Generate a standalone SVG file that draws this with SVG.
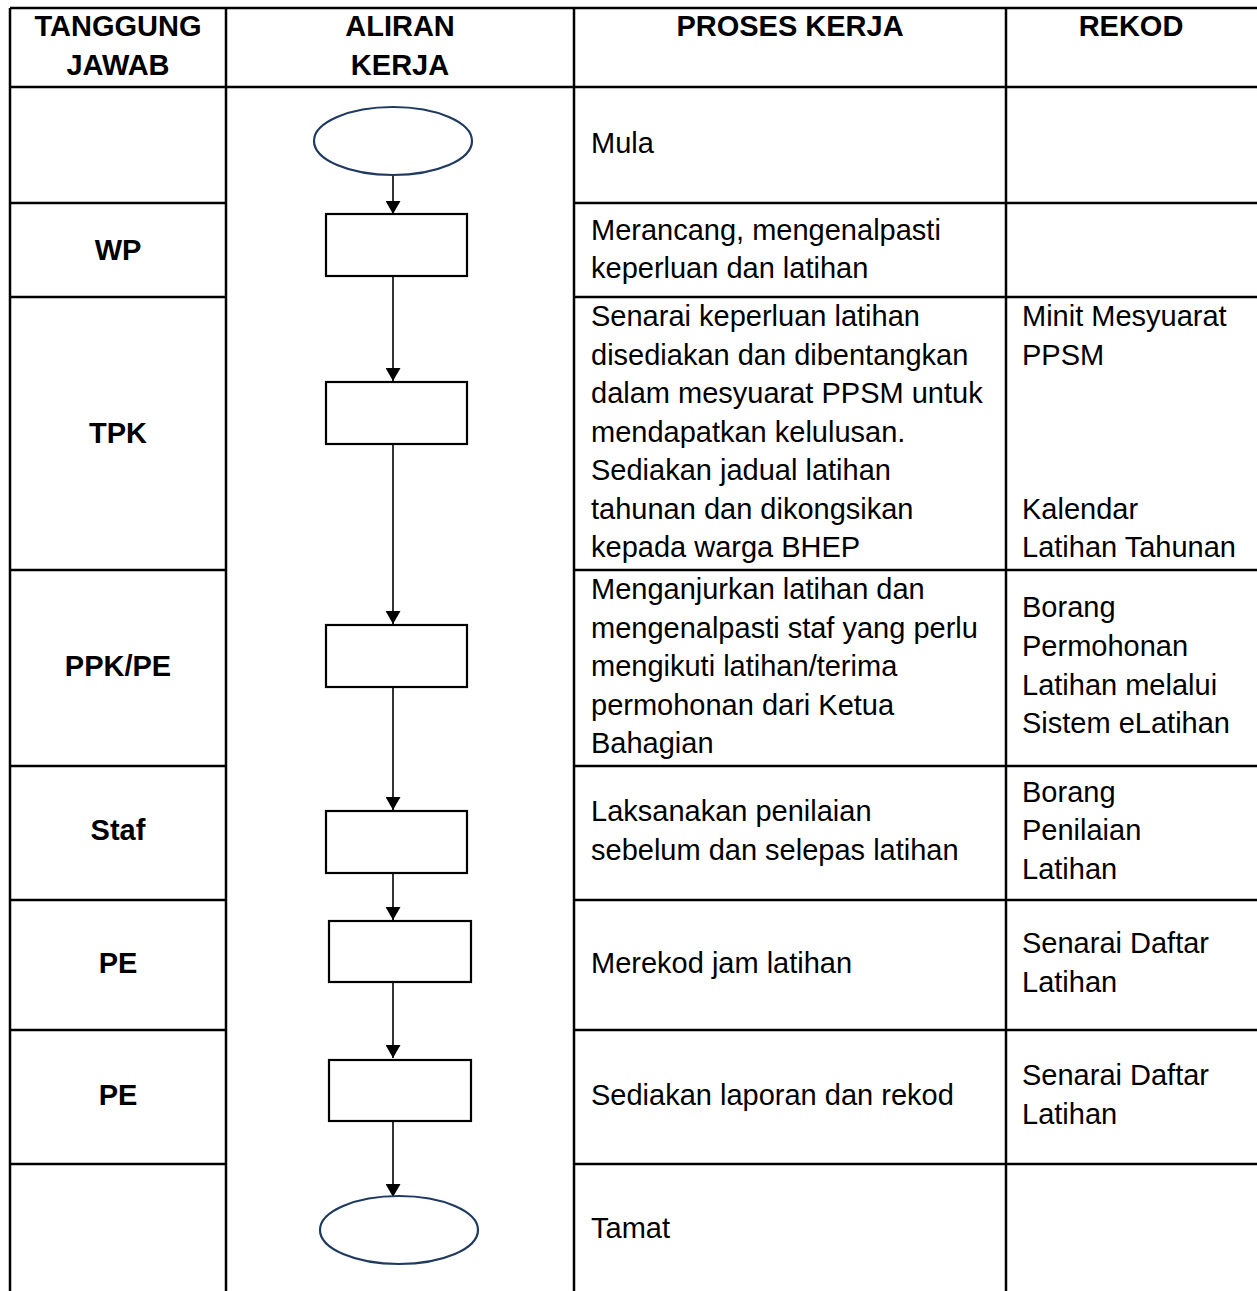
<svg xmlns="http://www.w3.org/2000/svg" width="1257" height="1291" viewBox="0 0 1257 1291">
<style>
text{font-family:"Liberation Sans",Arial,sans-serif;font-size:29px;fill:#000}
.b{font-weight:bold}
.c{text-anchor:middle}
.grid{stroke:#000;stroke-width:2.5;fill:none}
.box{fill:#fff;stroke:#000;stroke-width:2.2}
.term{fill:#fff;stroke:#1f3a60;stroke-width:2.2}
.conn{stroke:#000;stroke-width:1.6;fill:none;marker-end:url(#ah)}
</style>
<defs>
<marker id="ah" markerUnits="userSpaceOnUse" markerWidth="13" markerHeight="15" refX="13" refY="7.5" orient="auto" viewBox="0 0 13 15">
<path d="M0,0 L13,7.5 L0,15 Z" fill="#000"/>
</marker>
</defs>
<rect width="1257" height="1291" fill="#fff"/>
<g id="table" class="grid">
<line x1="10" y1="8" x2="1257" y2="8"/>
<line x1="10" y1="87" x2="1257" y2="87"/>
<line x1="10" y1="8" x2="10" y2="1291"/>
<line x1="226" y1="8" x2="226" y2="1291"/>
<line x1="574" y1="8" x2="574" y2="1291"/>
<line x1="1006" y1="8" x2="1006" y2="1291"/>
<path d="M10 203H226M10 297H226M10 570H226M10 766H226M10 900H226M10 1030H226M10 1164H226"/>
<path d="M574 203H1257M574 297H1257M574 570H1257M574 766H1257M574 900H1257M574 1030H1257M574 1164H1257"/>
</g>
<g id="headers">
<text class="b c" x="118" y="36">TANGGUNG</text>
<text class="b c" x="118" y="75">JAWAB</text>
<text class="b c" x="400" y="36">ALIRAN</text>
<text class="b c" x="400" y="75">KERJA</text>
<text class="b c" x="790" y="36">PROSES KERJA</text>
<text class="b c" x="1131" y="36">REKOD</text>
</g>
<g id="roles">
<text class="b c" x="118" y="260">WP</text>
<text class="b c" x="118" y="443">TPK</text>
<text class="b c" x="118" y="676">PPK/PE</text>
<text class="b c" x="118" y="840">Staf</text>
<text class="b c" x="118" y="973">PE</text>
<text class="b c" x="118" y="1105">PE</text>
</g>
<g id="connectors">
<line class="conn" x1="393" y1="175" x2="393" y2="214"/>
<line class="conn" x1="393" y1="276" x2="393" y2="381"/>
<line class="conn" x1="393" y1="444" x2="393" y2="624"/>
<line class="conn" x1="393" y1="687" x2="393" y2="810"/>
<line class="conn" x1="393" y1="873" x2="393" y2="920"/>
<line class="conn" x1="393" y1="983" x2="393" y2="1058"/>
<line class="conn" x1="393" y1="1121" x2="393" y2="1197"/>
</g>
<g id="start"><ellipse class="term" cx="393" cy="141" rx="79" ry="34"/></g>
<g id="step1"><rect class="box" x="326" y="214" width="141" height="62"/></g>
<g id="step2"><rect class="box" x="326" y="382" width="141" height="62"/></g>
<g id="step3"><rect class="box" x="326" y="625" width="141" height="62"/></g>
<g id="step4"><rect class="box" x="326" y="811" width="141" height="62"/></g>
<g id="step5"><rect class="box" x="329" y="921" width="142" height="61"/></g>
<g id="step6"><rect class="box" x="329" y="1060" width="142" height="61"/></g>
<g id="end"><ellipse class="term" cx="399" cy="1230" rx="79" ry="34"/></g>
<g id="process">
<text x="591" y="153">Mula</text>
<text x="591" y="240">Merancang, mengenalpasti</text>
<text x="591" y="278">keperluan dan latihan</text>
<text x="591" y="326">Senarai keperluan latihan</text>
<text x="591" y="365">disediakan dan dibentangkan</text>
<text x="591" y="403">dalam mesyuarat PPSM untuk</text>
<text x="591" y="442">mendapatkan kelulusan.</text>
<text x="591" y="480">Sediakan jadual latihan</text>
<text x="591" y="519">tahunan dan dikongsikan</text>
<text x="591" y="557">kepada warga BHEP</text>
<text x="591" y="599">Menganjurkan latihan dan</text>
<text x="591" y="638">mengenalpasti staf yang perlu</text>
<text x="591" y="676">mengikuti latihan/terima</text>
<text x="591" y="715">permohonan dari Ketua</text>
<text x="591" y="753">Bahagian</text>
<text x="591" y="821">Laksanakan penilaian</text>
<text x="591" y="860">sebelum dan selepas latihan</text>
<text x="591" y="973">Merekod jam latihan</text>
<text x="591" y="1105">Sediakan laporan dan rekod</text>
<text x="591" y="1238">Tamat</text>
</g>
<g id="records">
<text x="1022" y="326">Minit Mesyuarat</text>
<text x="1022" y="365">PPSM</text>
<text x="1022" y="519">Kalendar</text>
<text x="1022" y="557">Latihan Tahunan</text>
<text x="1022" y="617">Borang</text>
<text x="1022" y="656">Permohonan</text>
<text x="1022" y="695">Latihan melalui</text>
<text x="1022" y="733">Sistem eLatihan</text>
<text x="1022" y="802">Borang</text>
<text x="1022" y="840">Penilaian</text>
<text x="1022" y="879">Latihan</text>
<text x="1022" y="953">Senarai Daftar</text>
<text x="1022" y="992">Latihan</text>
<text x="1022" y="1085">Senarai Daftar</text>
<text x="1022" y="1124">Latihan</text>
</g>
</svg>
